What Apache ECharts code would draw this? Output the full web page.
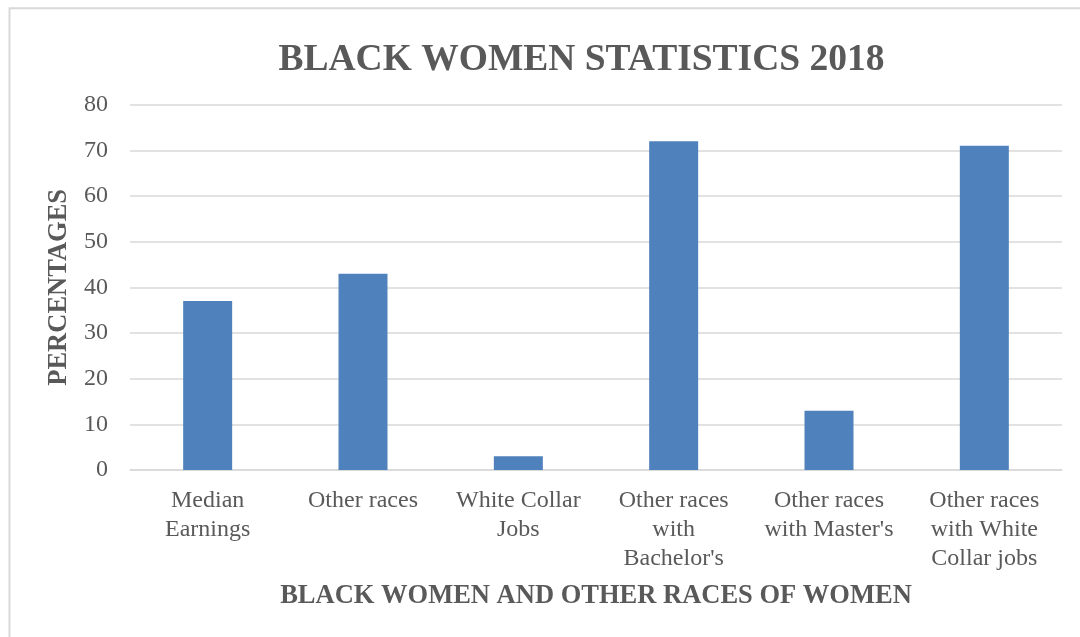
<!DOCTYPE html>
<html>
<head>
<meta charset="utf-8">
<script src="https://cdn.jsdelivr.net/npm/echarts@6/dist/echarts.min.js"></script>
<style>
html,body{margin:0;padding:0;background:#fff;}
#c{width:1080px;height:637px;}
</style>
</head>
<body>
<div id="c"></div>
<script>
const categories = ["Median\nEarnings", "Other races", "White Collar\nJobs", "Other races\nwith\nBachelor's", "Other races\nwith Master's", "Other races\nwith White\nCollar jobs"];
const values = [37, 43, 3, 72, 13, 71];
const yTicks = [0, 10, 20, 30, 40, 50, 60, 70, 80];
const titleText = "BLACK WOMEN STATISTICS 2018";
const xName = "BLACK WOMEN AND OTHER RACES OF WOMEN";
const yName = "PERCENTAGES";

const serif = '"Liberation Serif", "Times New Roman", serif';
const chart = echarts.init(document.getElementById('c'), null, {renderer: 'canvas'});
chart.setOption({
  animation: false,
  backgroundColor: '#ffffff',
  graphic: [{
    type: 'rect',
    shape: {x: 9.5, y: 8.3, width: 1200, height: 800},
    style: {fill: 'none', stroke: '#D9D9D9', lineWidth: 2},
    silent: true
  }],
  title: {
    text: titleText,
    left: 576.5,
    textAlign: 'center',
    top: 36,
    textStyle: {fontFamily: serif, fontWeight: 'bold', fontSize: 37.5, color: '#595959'}
  },
  grid: {left: 130, right: 18, top: 104.7, bottom: 167, containLabel: false},
  xAxis: {
    type: 'category',
    data: categories,
    name: xName,
    nameLocation: 'middle',
    nameGap: 113,
    nameTextStyle: {fontFamily: serif, fontWeight: 'bold', fontSize: 26.5, color: '#595959'},
    axisLine: {show: true, lineStyle: {color: '#D9D9D9', width: 1.5}},
    axisTick: {show: false},
    axisLabel: {fontFamily: serif, fontSize: 24, color: '#595959', lineHeight: 29, margin: 16, interval: 0}
  },
  yAxis: {
    type: 'value',
    min: yTicks[0],
    max: yTicks[yTicks.length - 1],
    interval: yTicks[1] - yTicks[0],
    name: yName,
    nameLocation: 'middle',
    nameGap: 57,
    nameTextStyle: {fontFamily: serif, fontWeight: 'bold', fontSize: 26.5, color: '#595959'},
    axisLine: {show: false},
    axisTick: {show: false},
    axisLabel: {fontFamily: serif, fontSize: 24, color: '#595959', margin: 22},
    splitLine: {lineStyle: {color: '#D9D9D9', width: 1.5}}
  },
  series: [{
    type: 'bar',
    data: values,
    barWidth: 49,
    itemStyle: {color: '#4F81BD'}
  }]
});
</script>
</body>
</html>
